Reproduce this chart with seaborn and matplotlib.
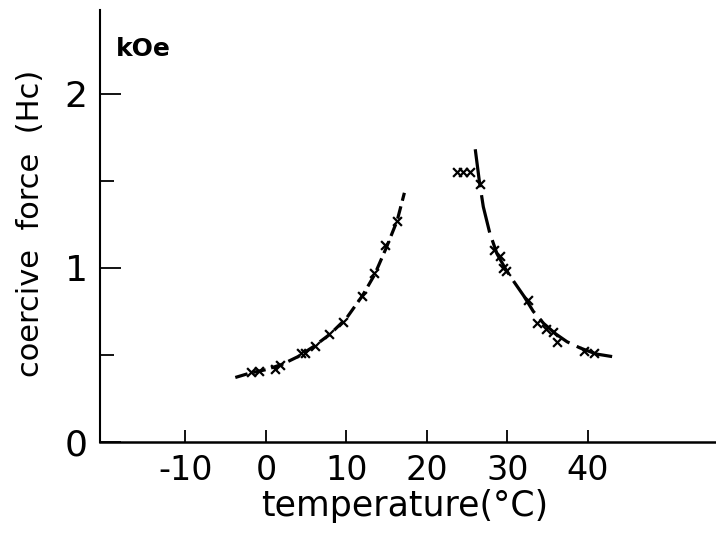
import matplotlib
matplotlib.use("Agg")
import matplotlib.pyplot as plt
import seaborn as sns
import pandas as pd
from matplotlib.ticker import FixedLocator

# Values
# measured points below the transition (x marks)
low_T = [-1.9, -0.9, 1.1, 1.8, 4.3, 4.9, 6.1, 7.8, 9.6, 11.9, 13.4, 14.8, 16.3]
low_Hc = [0.40, 0.41, 0.42, 0.44, 0.51, 0.51, 0.55, 0.62, 0.69, 0.835, 0.97, 1.13, 1.27]
# measured points above the transition
high_T = [23.7, 24.5, 25.4, 26.6, 28.3, 29.1, 29.5, 29.8, 32.6, 33.7, 34.8, 35.7, 36.1, 39.5, 40.7]
high_Hc = [1.55, 1.55, 1.55, 1.48, 1.10, 1.065, 1.00, 0.98, 0.816, 0.68, 0.65, 0.63, 0.576, 0.52, 0.51]

# hand-drawn guide curves
low_curve_T = [-3.8, -2.0, 0.0, 2.0, 4.0, 6.0, 8.0, 10.0, 12.0, 13.5, 15.0, 16.3, 17.2]
low_curve_Hc = [0.37, 0.395, 0.415, 0.445, 0.49, 0.55, 0.62, 0.71, 0.84, 0.96, 1.12, 1.27, 1.43]
high_curve_T = [26.0, 26.5, 27.0, 27.8, 28.7, 29.8, 30.8, 32.0, 33.2, 34.5, 36.0, 37.4, 39.0, 41.0, 43.0]
high_curve_Hc = [1.68, 1.50, 1.35, 1.20, 1.08, 0.99, 0.92, 0.84, 0.75, 0.68, 0.62, 0.575, 0.54, 0.505, 0.49]

x_ticks = [-10, 0, 10, 20, 30, 40]
y_major = [0, 1, 2]
y_minor = [0.5, 1.5]

sns.set_style("ticks")
plt.rcParams['font.family'] = ['DejaVu Sans']
plt.rcParams['axes.unicode_minus'] = False
for k in ("text.color", "axes.labelcolor", "xtick.color", "ytick.color", "axes.edgecolor"):
    plt.rcParams[k] = "black"

fig = plt.figure(figsize=(7.16, 5.49), dpi=100)
ax = fig.add_axes([0.1397, 0.195, 0.8603, 0.787])

pts_low = pd.DataFrame({"T": low_T, "Hc": low_Hc})
pts_high = pd.DataFrame({"T": high_T, "Hc": high_Hc})

sns.lineplot(x=low_curve_T, y=low_curve_Hc, ax=ax, color="black", lw=2.3,
             dashes=False, sort=False)
sns.lineplot(x=high_curve_T, y=high_curve_Hc, ax=ax, color="black", lw=2.3,
             dashes=False, sort=False)
ax.lines[0].set_dashes((4, 1.8))
ax.lines[1].set_dashes((12, 2.5))

for d in (pts_low, pts_high):
    sns.scatterplot(data=d, x="T", y="Hc", ax=ax, marker="x", s=40,
                    color="black", linewidth=1.6, zorder=3)

ax.set_xlim(-20.6, 55.9)
ax.set_ylim(0, 2.48)

ax.xaxis.set_major_locator(FixedLocator(x_ticks))
ax.yaxis.set_major_locator(FixedLocator(y_major))
ax.yaxis.set_minor_locator(FixedLocator(y_minor))

ax.tick_params(axis="x", direction="in", length=9, width=1.3, labelsize=24, pad=9)
ax.tick_params(axis="y", which="major", direction="in", length=15, width=1.3,
               labelsize=26, pad=9)
ax.tick_params(axis="y", which="minor", direction="in", length=10, width=1.3)

sns.despine(ax=ax)
ax.spines["left"].set_linewidth(1.5)
ax.spines["bottom"].set_linewidth(1.8)

ax.set_xlabel("temperature(°C)", fontsize=25)
ax.set_ylabel("coercive  force  (Hc)", fontsize=22)
ax.xaxis.set_label_coords(0.495, -0.11)
ax.yaxis.set_label_coords(-0.09, 0.505)

ax.text(0.025, 0.91, "kOe", transform=ax.transAxes, fontsize=18,
        fontweight="bold", ha="left", va="center")

fig.savefig("out.png", dpi=100)
